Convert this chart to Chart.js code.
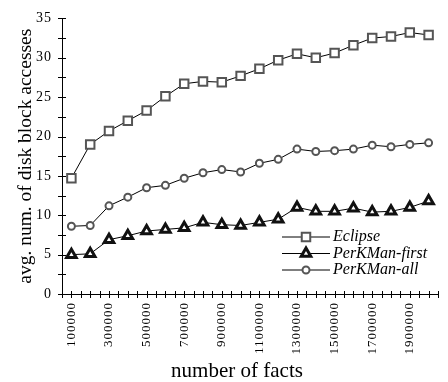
<!DOCTYPE html>
<html>
<head>
<meta charset="utf-8">
<script src="https://cdn.jsdelivr.net/npm/chart.js@4.4.1/dist/chart.umd.min.js"></script>
<style>
  html, body { margin: 0; padding: 0; background: #fff; }
  #wrap { width: 448px; height: 382px; }
</style>
</head>
<body>
<div id="wrap"><canvas id="lineChart" width="448" height="382"></canvas></div>
<script>
// number of facts
const facts = ['100000', '200000', '300000', '400000', '500000', '600000', '700000', '800000', '900000', '1000000',
  '1100000', '1200000', '1300000', '1400000', '1500000', '1600000', '1700000', '1800000', '1900000', '2000000'];

const eclipse = [14.7, 19.0, 20.7, 22.0, 23.3, 25.1, 26.7, 27.0, 26.9, 27.7,
  28.6, 29.7, 30.5, 30.0, 30.6, 31.6, 32.5, 32.7, 33.2, 32.9];
const perkmanFirst = [5.0, 5.1, 6.9, 7.4, 8.0, 8.2, 8.4, 9.1, 8.8, 8.7,
  9.1, 9.5, 11.0, 10.5, 10.5, 10.9, 10.4, 10.5, 11.0, 11.8];
const perkmanAll = [8.6, 8.7, 11.2, 12.3, 13.5, 13.8, 14.7, 15.4, 15.8, 15.5,
  16.6, 17.1, 18.4, 18.1, 18.2, 18.4, 18.9, 18.7, 19.0, 19.2];

const yTicks = [0, 5, 10, 15, 20, 25, 30, 35];

const tituloX = 'number of facts';
const tituloY = 'avg. num. of disk block accesses';

const serif = "'Liberation Serif', 'DejaVu Serif', serif";

// ticks crossing the axes, x labels, axis titles, legend inside plot
const marcas = {
  id: 'marcas',
  beforeDraw(chart) {
    chart.ctx.letterSpacing = '1px'; // y tick labels are spaced out
  },
  afterDraw(chart) {
    const c = chart.ctx;
    const x = chart.scales.x, y = chart.scales.y;
    const a = chart.chartArea;
    c.letterSpacing = '0px';
    c.save();
    c.strokeStyle = '#000';
    c.lineWidth = 1;
    c.beginPath();
    // x: every half category
    const paso = (x.getPixelForValue(1) - x.getPixelForValue(0)) / 2;
    for (let px = a.left; px <= a.right + 0.5; px += paso) {
      const xx = Math.round(px) + 0.5;
      c.moveTo(xx, a.bottom - 3);
      c.lineTo(xx, a.bottom + 4);
    }
    // y: every 2.5
    for (let v = 0; v <= 35; v += 2.5) {
      const yy = Math.round(y.getPixelForValue(v)) + 0.5;
      c.moveTo(a.left - 4, yy);
      c.lineTo(a.left + 4, yy);
    }
    c.stroke();

    // x labels, every other category, rotated
    c.fillStyle = '#000';
    c.font = '13px ' + serif;
    c.letterSpacing = '1px';
    c.textAlign = 'right';
    c.textBaseline = 'middle';
    x.ticks.forEach((t, i) => {
      if (i % 2 !== 0) return;
      c.save();
      c.translate(x.getPixelForTick(i), a.bottom + 8);
      c.rotate(-Math.PI / 2);
      c.fillText(x.getLabelForValue(t.value), 0, 0);
      c.restore();
    });
    c.letterSpacing = '0px';

    // titulos
    c.textAlign = 'center';
    c.textBaseline = 'alphabetic';
    c.font = '21px ' + serif;
    c.fillText(tituloX, 237, 377);
    c.save();
    c.translate(31, (a.top + a.bottom) / 2);
    c.rotate(-Math.PI / 2);
    c.font = '19.5px ' + serif;
    c.fillText(tituloY, 0, 0);
    c.restore();

    // legend
    const lx0 = 282, lx1 = 330, ly = 237, dy = 16.5;
    c.textAlign = 'left';
    c.textBaseline = 'middle';
    chart.data.datasets.forEach((ds, i) => {
      const yy = ly + i * dy;
      c.beginPath();
      c.strokeStyle = '#000';
      c.lineWidth = 1;
      c.moveTo(lx0, yy);
      c.lineTo(lx1, yy);
      c.stroke();
      c.fillStyle = ds.pointBackgroundColor;
      c.strokeStyle = ds.pointBorderColor;
      c.lineWidth = ds.pointBorderWidth;
      Chart.helpers.drawPoint(c, {
        pointStyle: ds.pointStyle,
        radius: ds.pointRadius,
        rotation: 0,
        borderWidth: ds.pointBorderWidth
      }, (lx0 + lx1) / 2, yy);
      c.fillStyle = '#000';
      c.font = 'italic 16px ' + serif;
      c.fillText(ds.label, lx1 + 3, yy);
    });
    c.restore();
  }
};

const grafico = new Chart(document.getElementById('lineChart'), {
  type: 'line',
  data: {
    labels: facts,
    datasets: [{
      label: 'Eclipse',
      data: eclipse,
      borderColor: '#000',
      borderWidth: 1,
      tension: 0,
      pointStyle: 'rect',
      pointRadius: 6,
      pointBorderWidth: 2,
      pointBorderColor: '#555',
      pointBackgroundColor: '#fff'
    }, {
      label: 'PerKMan-first',
      data: perkmanFirst,
      borderColor: '#000',
      borderWidth: 1,
      tension: 0,
      pointStyle: 'triangle',
      pointRadius: 5.5,
      pointBorderWidth: 3,
      pointBorderColor: '#111',
      pointBackgroundColor: '#fff'
    }, {
      label: 'PerKMan-all',
      data: perkmanAll,
      borderColor: '#000',
      borderWidth: 1,
      tension: 0,
      pointStyle: 'circle',
      pointRadius: 3.5,
      pointBorderWidth: 2,
      pointBorderColor: '#555',
      pointBackgroundColor: '#fff'
    }]
  },
  options: {
    responsive: false,
    animation: false,
    layout: { padding: { top: 11, right: 10, left: 0, bottom: 0 } },
    plugins: { legend: { display: false }, tooltip: { enabled: false } },
    scales: {
      x: {
        offset: true,
        grid: { display: false, drawTicks: false, tickLength: 0 },
        border: { display: true, color: '#000', width: 1 },
        ticks: { display: false, autoSkip: false },
        afterFit: function(s) { s.height = 88; }
      },
      y: {
        min: 0,
        max: 35,
        grid: { display: false, drawTicks: false, tickLength: 0 },
        border: { display: true, color: '#000', width: 1 },
        afterBuildTicks: function(s) { s.ticks = yTicks.map(v => ({ value: v })); },
        ticks: {
          padding: 10,
          color: '#000',
          font: { family: serif, size: 14 }
        },
        afterFit: function(s) { s.width = 62; }
      }
    }
  },
  plugins: [marcas]
});
</script>
</body>
</html>
